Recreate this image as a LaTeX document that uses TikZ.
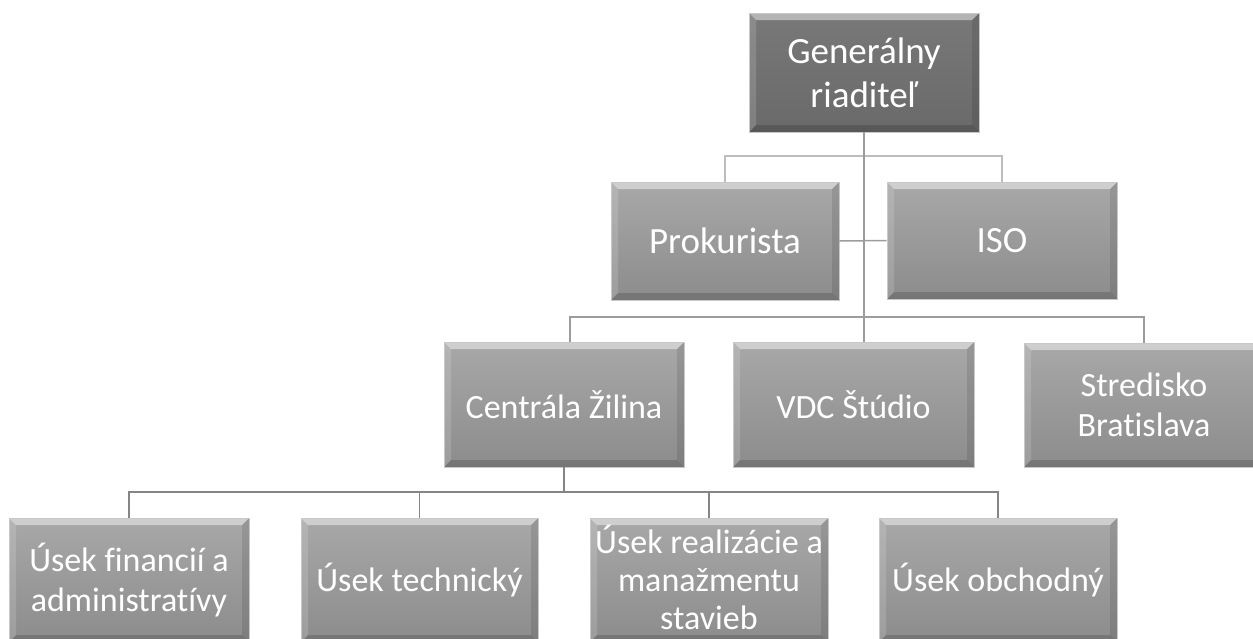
\documentclass[tikz,border=0pt]{standalone}
\usepackage{fontspec}
\setmainfont{Carlito}[Ligatures={NoCommon}]
\usetikzlibrary{calc}
\definecolor{boxtop}{HTML}{A8A8A8}
\definecolor{boxbot}{HTML}{8C8C8C}
\definecolor{toptop}{HTML}{787878}
\definecolor{topbot}{HTML}{6A6A6A}
\definecolor{boxedge}{HTML}{C8C8C8}
\definecolor{linelight}{HTML}{BDBDBD}
\definecolor{linemid}{HTML}{9C9C9C}
\definecolor{linedark}{HTML}{858585}
\tikzset{
  bevel/.style={path picture={
    \path (path picture bounding box.north west) coordinate (pNW)
          (path picture bounding box.north east) coordinate (pNE)
          (path picture bounding box.south west) coordinate (pSW)
          (path picture bounding box.south east) coordinate (pSE);
    \fill[white,opacity=.45] (pNW) -- (pNE) -- ([shift={(-7pt,-7pt)}]pNE) -- ([shift={(7pt,-7pt)}]pNW) -- cycle;
    \fill[white,opacity=.15] (pNW) -- ([shift={(7pt,-7pt)}]pNW) -- ([shift={(7pt,7pt)}]pSW) -- (pSW) -- cycle;
    \fill[black,opacity=.10] (pNE) -- (pSE) -- ([shift={(-7pt,7pt)}]pSE) -- ([shift={(-7pt,-7pt)}]pNE) -- cycle;
    \fill[black,opacity=.16] (pSW) -- (pSE) -- ([shift={(-7pt,7pt)}]pSE) -- ([shift={(7pt,7pt)}]pSW) -- cycle;
  }},
  orgbox/.style={rectangle, inner sep=0pt, text=white, align=center,
    top color=boxtop, bottom color=boxbot, draw=boxedge, line width=0.8pt, bevel},
  bigtext/.style={font=\fontsize{37}{44}\selectfont},
  smalltext/.style={font=\fontsize{34}{40}\selectfont},
  tighttext/.style={font=\fontsize{34}{38}\selectfont},
  headbox/.style={orgbox, top color=toptop, bottom color=topbot},
  conn/.style={line width=1.5pt},
}
\begin{document}
\begin{tikzpicture}[x=1pt,y=-1pt]
\useasboundingbox (0,0) rectangle (1253,638);
\clip (0,0) rectangle (1253,638);

% nodes
\node[headbox, bigtext, minimum width=230pt, minimum height=119pt] (gr) at (864,72.5) {Generálny\\riaditeľ};
\node[orgbox, bigtext, minimum width=228pt, minimum height=118pt] (prok) at (725,241) {Prokurista};
\node[orgbox, bigtext, minimum width=230pt, minimum height=117pt] (iso) at (1002,240.5) {ISO};

\node[orgbox, smalltext, minimum width=240pt, minimum height=125pt] (cz) at (564,404.5) {Centrála Žilina};
\node[orgbox, smalltext, minimum width=241pt, minimum height=125pt] (vdc) at (853.5,404.5) {VDC Štúdio};
\node[orgbox, smalltext, minimum width=240pt, minimum height=124pt] (sb) at (1144,405) {Stredisko\\Bratislava};

\node[orgbox, smalltext, minimum width=240pt, minimum height=124pt] (uf) at (129,580) {Úsek financií a\\administratívy};
\node[orgbox, smalltext, minimum width=237pt, minimum height=124pt] (ut) at (419.5,580) {Úsek technický};
\node[orgbox, minimum width=238pt, minimum height=124pt] (ur) at (709,580) {};
\node[tighttext, text=white, align=center, inner sep=0pt] (urt) at (709,577) {Úsek realizácie a\\manažmentu\\stavieb};
\node[orgbox, smalltext, minimum width=238pt, minimum height=124pt] (uo) at (998,580) {Úsek obchodný};

% connector junctions
\coordinate (j1) at (864,156);
\coordinate (j2) at (864,317);
\coordinate (j3) at (564,492);

% top level connectors
\draw[conn, linelight] (prok.north) |- (j1) -| (iso.north);
\draw[conn, linemid] (prok.east) -- (iso.west);
\draw[conn, linemid] (gr.south) -- (j2);

% second level
\draw[conn, linemid] ([xshift=6pt]cz.north) |- (j2) -| (sb.north);
\draw[conn, linemid] (j2) -- (j2 |- vdc.north);

% third level
\draw[conn, linedark] (cz.south) -- (j3);
\draw[conn, linedark] (uf.north) |- (j3) -| (uo.north);
\draw[conn, linedark] (ut.north) |- (j3);
\draw[conn, linedark] (ur.north) |- (j3);
\end{tikzpicture}
\end{document}
